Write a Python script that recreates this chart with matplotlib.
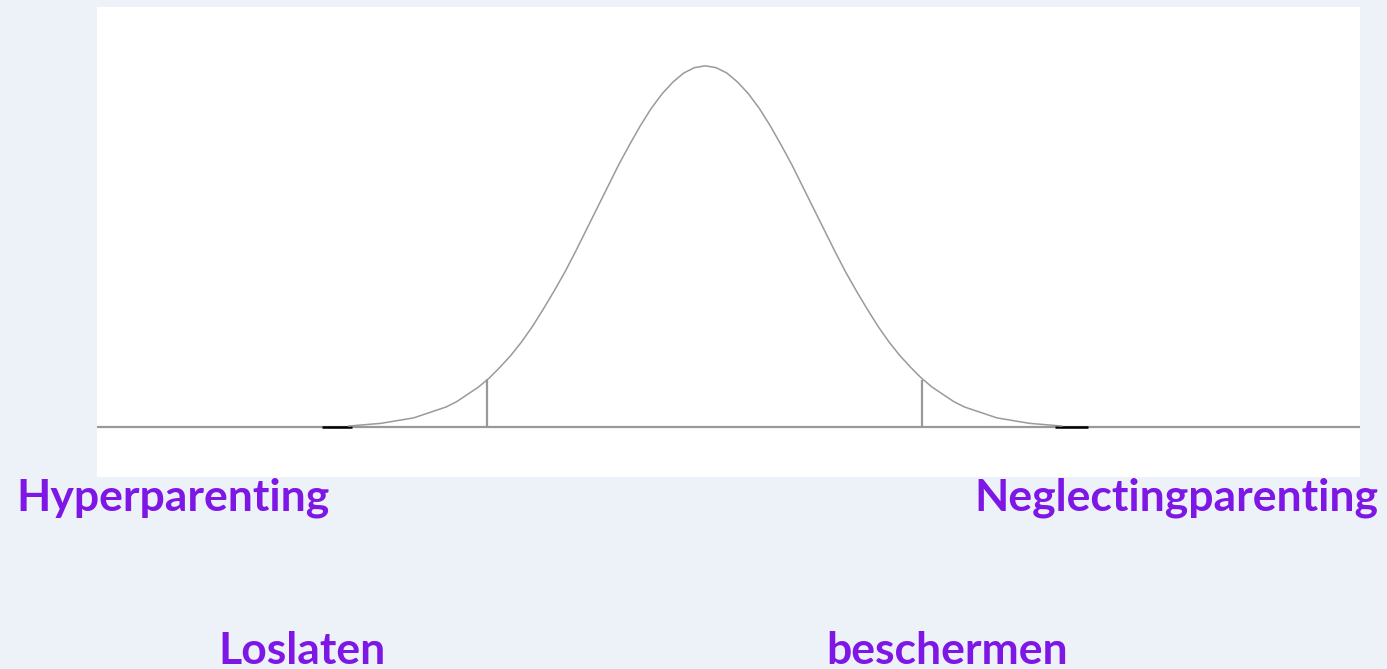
import matplotlib
matplotlib.use('Agg')
from matplotlib import pyplot as plt

# bell curve (x in sd units from the peak, y as density)
curve_x = [-3.3, -3.2, -3.1, -3.0, -2.9, -2.8, -2.7, -2.6, -2.5, -2.4,
           -2.3, -2.2, -2.1, -2.0, -1.9, -1.8, -1.7, -1.6, -1.5, -1.4,
           -1.3, -1.2, -1.1, -1.0, -0.9, -0.8, -0.7, -0.6, -0.5, -0.4,
           -0.3, -0.2, -0.1, 0.0, 0.1, 0.2, 0.3, 0.4, 0.5, 0.6,
           0.7, 0.8, 0.9, 1.0, 1.1, 1.2, 1.3, 1.4, 1.5, 1.6,
           1.7, 1.8, 1.9, 2.0, 2.1, 2.2, 2.3, 2.4, 2.5, 2.6,
           2.7, 2.8, 2.9, 3.0, 3.1, 3.2, 3.3]
curve_y = [0.001, 0.002, 0.003, 0.004, 0.006, 0.008, 0.010, 0.014, 0.018,
           0.022, 0.028, 0.036, 0.044, 0.054, 0.066, 0.079, 0.094, 0.111,
           0.130, 0.150, 0.171, 0.194, 0.218, 0.242, 0.266, 0.290, 0.312,
           0.333, 0.352, 0.368, 0.381, 0.391, 0.397, 0.399, 0.397, 0.391,
           0.381, 0.368, 0.352, 0.333, 0.312, 0.290, 0.266, 0.242, 0.218,
           0.194, 0.171, 0.150, 0.130, 0.111, 0.094, 0.079, 0.066, 0.054,
           0.044, 0.036, 0.028, 0.022, 0.018, 0.014, 0.010, 0.008, 0.006,
           0.004, 0.003, 0.002, 0.001]

# vertical cut lines and their heights on the curve
cut_x = [-2.02, 2.01]
cut_y = [0.053, 0.052]

# short dark pieces on the baseline at the far tails
tail_segments = [(-3.55, -3.27), (3.24, 3.54)]

# labels under the chart
labels = ['Hyperparenting', 'Neglectingparenting', 'Loslaten', 'beschermen']

W, H = 1387, 669
fig = plt.figure(figsize=(W / 100, H / 100), dpi=100)
fig.patch.set_facecolor('#edf2f9')

ax = fig.add_axes([97 / W, 1 - 477 / H, 1263 / W, 470 / H])
ax.set_xlim(-5.63, 6.06)
ax.set_ylim(-0.0553, 0.464)
ax.axis('off')
ax.add_patch(plt.Rectangle((0, 0), 1, 1, transform=ax.transAxes,
                           facecolor='white', edgecolor='none', zorder=0))

# baseline
ax.axhline(0, color='#999999', lw=1.6, zorder=2)
for x0, x1 in tail_segments:
    ax.plot([x0, x1], [0, 0], color='black', lw=1.8, zorder=3,
            solid_capstyle='butt')

ax.plot(curve_x, curve_y, color='#9a9a9a', lw=1.1, zorder=3)
ax.vlines(cut_x, 0, cut_y, color='#999999', lw=1.6, zorder=3)

purple = '#7e16e5'
font = dict(family='Lato', weight='bold', size=32, color=purple)
# label positions in pixels (x, baseline y, alignment)
places = [(16, 510, 'left'), (1378, 510, 'right'),
          (218, 664, 'left'), (826, 664, 'left')]
for text, (px, py, ha) in zip(labels, places):
    fig.text(px / W, 1 - py / H, text, ha=ha, va='baseline', **font)

fig.savefig('out.png', dpi=100, facecolor=fig.get_facecolor())
